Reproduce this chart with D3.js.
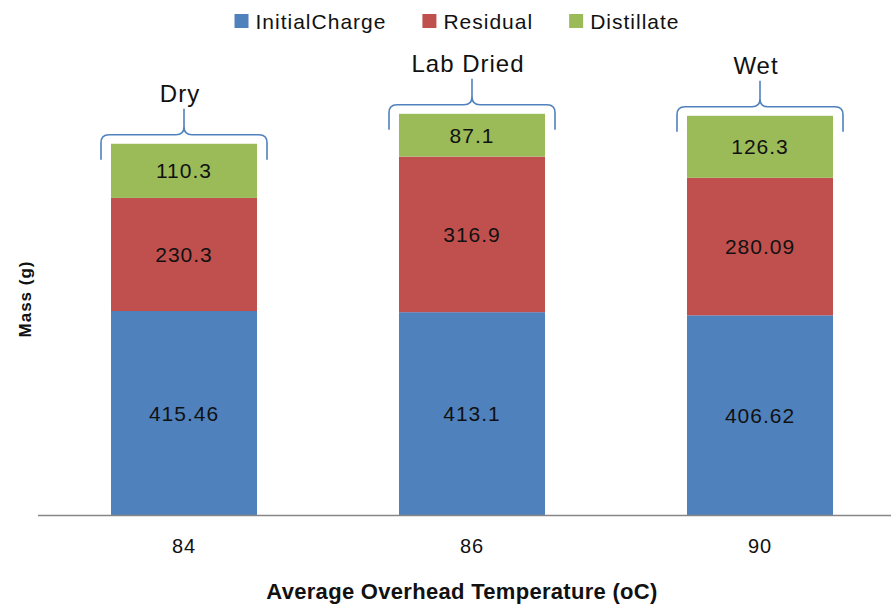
<!DOCTYPE html>
<html><head><meta charset="utf-8">
<script src="https://cdn.jsdelivr.net/npm/d3@7"></script>
<style>html,body{margin:0;padding:0;background:#fff;}svg{display:block;}</style>
</head><body>
<svg id="chart" width="891" height="606"></svg>
<script>
// ---- data ----
const categories = ["84", "86", "90"];
const seriesNames = ["InitialCharge", "Residual", "Distillate"];
const initialCharge = [415.46, 413.1, 406.62];
const residual = [230.3, 316.9, 280.09];
const distillate = [110.3, 87.1, 126.3];
const groupLabels = ["Dry", "Lab Dried", "Wet"];
const yDomain = [0, 1000];
const xTitle = "Average Overhead Temperature (oC)";
const yTitle = "Mass (g)";
const colors = ["#4F81BD", "#C0504D", "#9BBB59"];

// ---- layout ----
const W = 891, H = 606;
const svg = d3.select("#chart");
const FONT = "'Liberation Sans', Arial, sans-serif";

const x = d3.scaleBand().domain(categories).range([40, 904]).paddingInner(0.493).paddingOuter(0.2465);
const y = d3.scaleLinear().domain(yDomain).range([515, 24]);

const rows = categories.map((c, i) => ({cat: c, InitialCharge: initialCharge[i], Residual: residual[i], Distillate: distillate[i]}));
const stacked = d3.stack().keys(seriesNames)(rows);
const seriesValues = [initialCharge, residual, distillate];

// bars
const g = svg.append("g");
stacked.forEach((layer, si) => {
  g.selectAll(null).data(layer).join("rect")
    .attr("x", d => x(d.data.cat))
    .attr("width", x.bandwidth())
    .attr("y", d => y(d[1]))
    .attr("height", d => y(d[0]) - y(d[1]))
    .attr("fill", colors[si]);
  g.selectAll(null).data(layer).join("text")
    .attr("x", d => x(d.data.cat) + x.bandwidth() / 2)
    .attr("y", d => (y(d[0]) + y(d[1])) / 2)
    .attr("dy", "0.36em")
    .attr("text-anchor", "middle")
    .attr("font-family", FONT).attr("font-size", 21).attr("letter-spacing", 1)
    .attr("fill", "#111")
    .text((d, i) => String(seriesValues[si][i]));
});

// axis line
const xAxis = d3.axisBottom(x).tickSize(0).tickPadding(24);
const ax = svg.append("g").attr("transform", `translate(0,${y(0)})`).call(xAxis);
ax.select(".domain").remove();
svg.append("line").attr("x1", 38).attr("x2", W).attr("y1", y(0) + 0.5).attr("y2", y(0) + 0.5)
  .attr("stroke", "#868686").attr("stroke-width", 1.5);
ax.selectAll("text").attr("font-family", FONT).attr("font-size", 20).attr("letter-spacing", 1).attr("fill", "#111");

// axis titles
svg.append("text").attr("x", 462).attr("y", 599).attr("text-anchor", "middle")
  .attr("font-family", FONT).attr("font-size", 22).attr("font-weight", "bold").attr("letter-spacing", 0.3).attr("fill", "#111")
  .text(xTitle);
svg.append("text").attr("transform", "translate(31,299) rotate(-90)").attr("text-anchor", "middle")
  .attr("font-family", FONT).attr("font-size", 17).attr("font-weight", "bold").attr("letter-spacing", 1).attr("fill", "#111")
  .text(yTitle);

// braces + group labels
const totals = categories.map((c, i) => initialCharge[i] + residual[i] + distillate[i]);
const r = 8;
categories.forEach((c, i) => {
  const top = y(totals[i]);
  const x0 = x(c) - 10, x1 = x(c) + x.bandwidth() + 10, cx = x(c) + x.bandwidth() / 2;
  const yh = top - 9, yb = top + 16, yt = yh - 26;
  const p = d3.path();
  p.moveTo(x0, yb);
  p.lineTo(x0, yh + r);
  p.quadraticCurveTo(x0, yh, x0 + r, yh);
  p.lineTo(cx - r, yh);
  p.quadraticCurveTo(cx, yh, cx, yh - r);
  p.lineTo(cx, yt);
  p.moveTo(cx, yh - r);
  p.quadraticCurveTo(cx, yh, cx + r, yh);
  p.lineTo(x1 - r, yh);
  p.quadraticCurveTo(x1, yh, x1, yh + r);
  p.lineTo(x1, yb);
  svg.append("path").attr("d", p.toString()).attr("fill", "none")
    .attr("stroke", "#4F81BD").attr("stroke-width", 1.6);
  svg.append("text").attr("x", cx - 4).attr("y", yt - 7).attr("text-anchor", "middle")
    .attr("font-family", FONT).attr("font-size", 24).attr("letter-spacing", 1).attr("fill", "#111")
    .text(groupLabels[i]);
});

// legend
const leg = svg.append("g");
let lx = 0;
seriesNames.forEach((n, i) => {
  const it = leg.append("g").attr("transform", `translate(${lx},0)`);
  it.append("rect").attr("x", 0).attr("y", 14).attr("width", 14).attr("height", 14).attr("fill", colors[i]);
  const t = it.append("text").attr("x", 21).attr("y", 29)
    .attr("font-family", FONT).attr("font-size", 21).attr("letter-spacing", 1).attr("fill", "#111").text(n);
  lx += 21 + t.node().getComputedTextLength() + 36;
});
const lw = lx - 36;
leg.attr("transform", `translate(${457 - lw / 2},0)`);
</script>
</body></html>
